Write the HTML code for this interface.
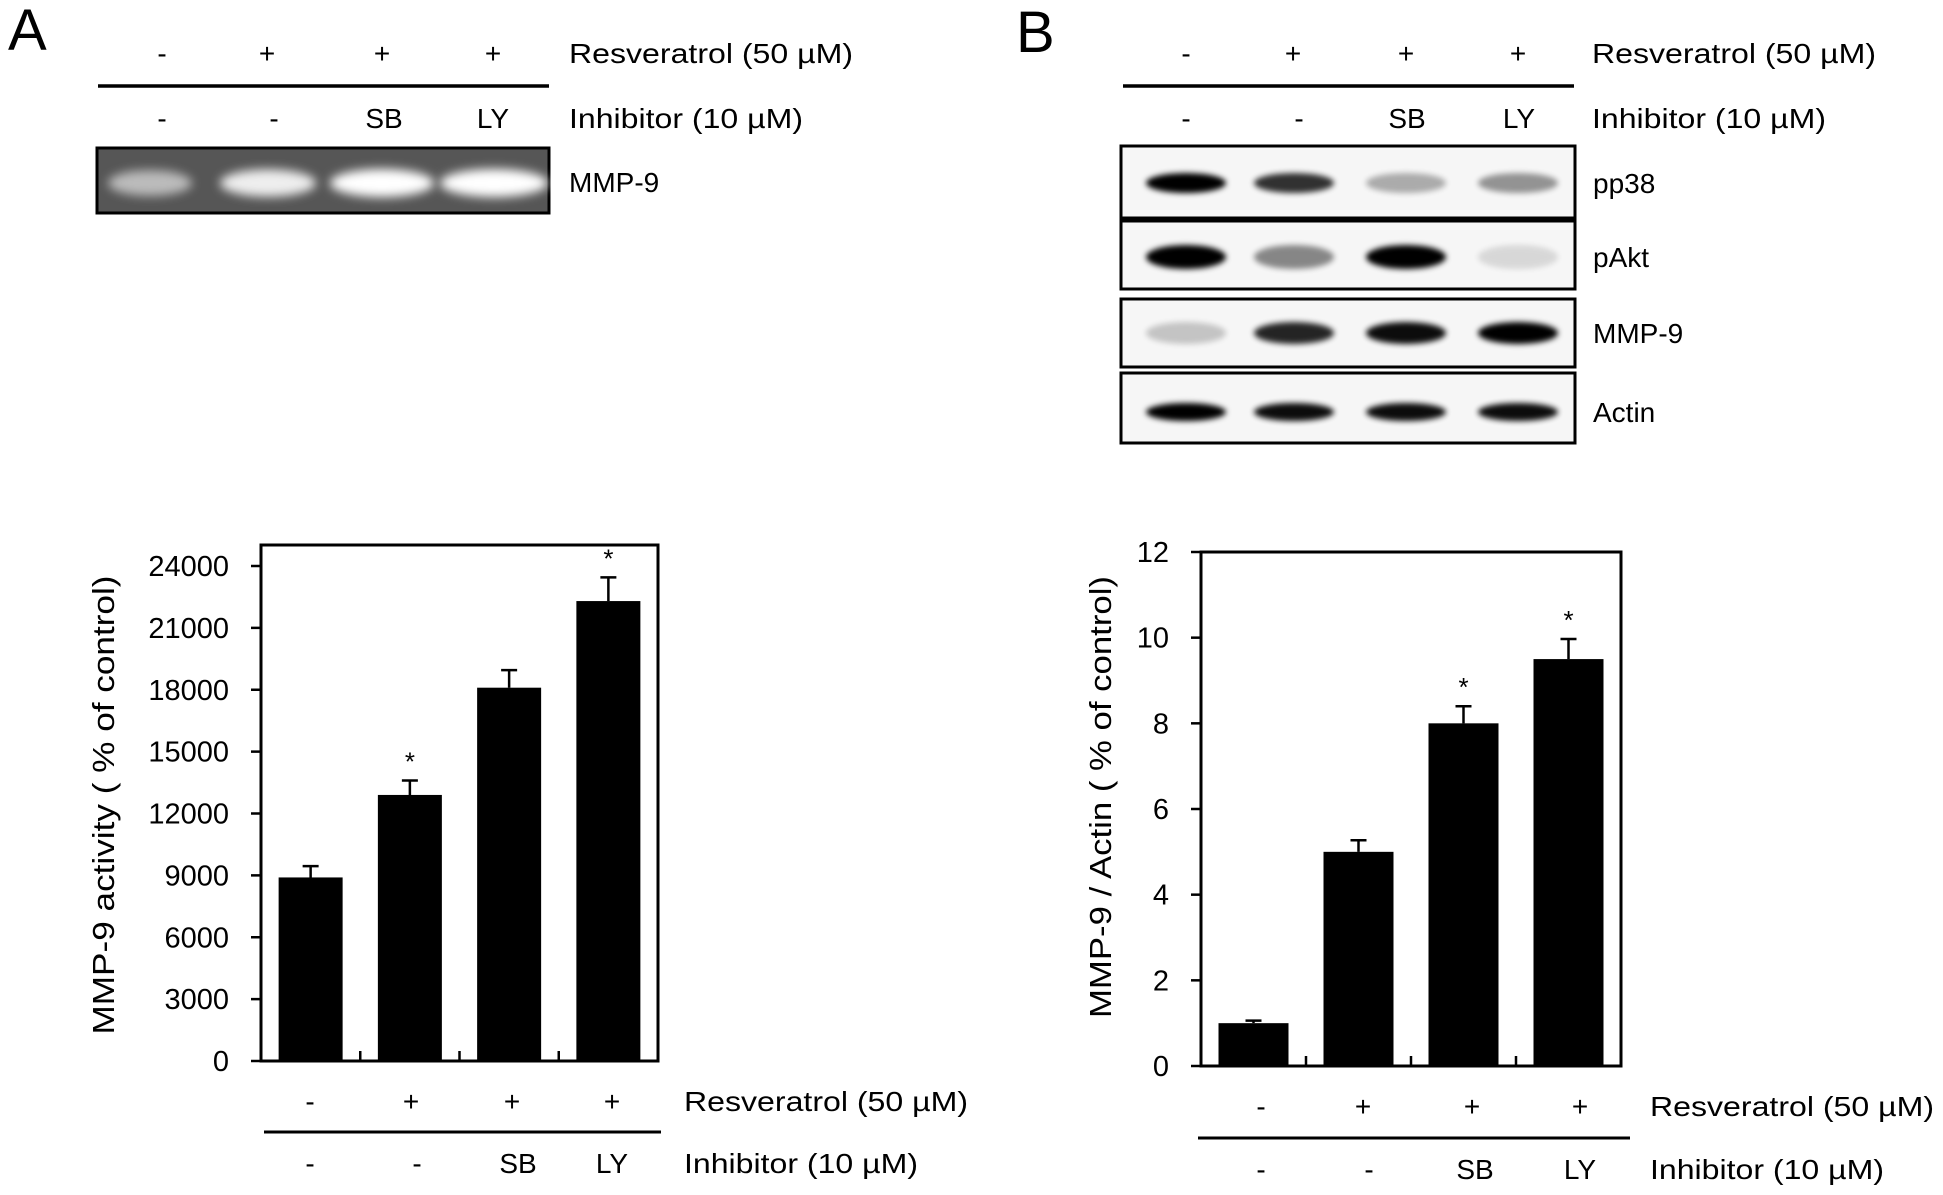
<!DOCTYPE html>
<html><head><meta charset="utf-8"><style>
html,body{margin:0;padding:0;background:#fff;}
svg{display:block;font-family:"Liberation Sans",sans-serif;}
</style></head><body>
<svg id="fig" width="1943" height="1195" viewBox="0 0 1943 1195" xmlns="http://www.w3.org/2000/svg">
<defs>
<filter id="blur" x="-30%" y="-80%" width="160%" height="260%"><feGaussianBlur stdDeviation="5"/></filter>
<filter id="blur2" x="-30%" y="-80%" width="160%" height="260%"><feGaussianBlur stdDeviation="3"/></filter>
</defs>
<text x="8" y="50" font-size="58">A</text>
<text x="1016" y="52" font-size="58">B</text>
<g id="topBlots" font-size="28"></g>
<g id="chartA" font-size="28"></g>
<g id="chartB" font-size="28"></g>
</svg>
<script>
// ---- Chart A data ----
const catsA = ["Control", "Resveratrol", "Resveratrol+SB", "Resveratrol+LY"];
const valsA = [8900, 12900, 18100, 22300];
const errsA = [550, 700, 850, 1150];
const starsA = [false, true, false, true];
const ticksA = [0, 3000, 6000, 9000, 12000, 15000, 18000, 21000, 24000];
// ---- Chart B data ----
const catsB = ["Control", "Resveratrol", "Resveratrol+SB", "Resveratrol+LY"];
const valsB = [1.0, 5.0, 8.0, 9.5];
const errsB = [0.06, 0.27, 0.4, 0.47];
const starsB = [false, false, true, true];
const ticksB = [0, 2, 4, 6, 8, 10, 12];
const resvRow = ["-", "+", "+", "+"];
const inhRow = ["-", "-", "SB", "LY"];

const NS = "http://www.w3.org/2000/svg";
function mk(parent, tag, attrs, text) {
  const e = document.createElementNS(NS, tag);
  for (const k in attrs) e.setAttribute(k, attrs[k]);
  if (text !== undefined) e.textContent = text;
  parent.appendChild(e);
  return e;
}

function drawChart(g, cfg) {
  const y = v => cfg.bottom - (v - cfg.min) / (cfg.max - cfg.min) * (cfg.bottom - cfg.yTop);
  const step = (cfg.right - cfg.left) / cfg.cats.length;
  const x = i => cfg.left + step * (i + 0.5);
  let f = mk(g, "rect", {x: cfg.left, y: cfg.top, width: cfg.right - cfg.left, height: cfg.bottom - cfg.top, fill: "none", stroke: "#000", "stroke-width": 3});
  
  
  cfg.ticks.forEach(t => {
    const l = mk(g, "line", {x1: cfg.left - 10, x2: cfg.left, y1: y(t), y2: y(t), stroke: "#000", "stroke-width": 2.5});
    
    
    const tx = mk(g, "text", {x: cfg.left - 32, y: y(t) + 10, "text-anchor": "end", "font-size": 29}, String(t));
    
    
  });
  for (let i = 1; i < cfg.cats.length; i++) {
    const l = mk(g, "line", {x1: cfg.left + step * i, x2: cfg.left + step * i, y1: cfg.bottom, y2: cfg.bottom - 10, stroke: "#000", "stroke-width": 2.5});
    
    
  }
  cfg.vals.forEach((v, i) => {
    const b = mk(g, "rect", {x: x(i) - cfg.bw / 2, y: y(v), width: cfg.bw, height: cfg.bottom - y(v), fill: "#000"});
    
    
    const e = cfg.errs[i];
    const eb = mk(g, "path", {d: `M${x(i)},${y(v)} V${y(v + e)} M${x(i) - 8},${y(v + e)} H${x(i) + 8}`, stroke: "#000", "stroke-width": 2.5, fill: "none"});
    
    
    if (cfg.stars[i]) {
      const s = mk(g, "text", {x: x(i), y: y(v + e) - 10, "text-anchor": "middle", "font-size": 26}, "*");
      
      
    }
  });
  const yl = mk(g, "text", {transform: `translate(${cfg.ylx},${cfg.ylc}) rotate(-90)`, "text-anchor": "middle", "font-size": 31, textLength: cfg.yll, lengthAdjust: "spacingAndGlyphs"}, cfg.ylabel);
  
  
  cfg.r1x.forEach((px, i) => {
    const t = mk(g, "text", {x: px, y: cfg.r1y, "text-anchor": "middle"}, resvRow[i]);
    
    
  });
  cfg.r2x.forEach((px, i) => {
    const t = mk(g, "text", {x: px, y: cfg.r2y, "text-anchor": "middle"}, inhRow[i]);
    
    
  });
  const ln = mk(g, "line", {x1: cfg.lx1, x2: cfg.lx2, y1: cfg.ly, y2: cfg.ly, stroke: "#000", "stroke-width": 3});
  
  
  const a = mk(g, "text", {x: cfg.labx, y: cfg.r1y, textLength: 284, lengthAdjust: "spacingAndGlyphs"}, "Resveratrol (50 µM)");
  
  
  const b = mk(g, "text", {x: cfg.labx, y: cfg.r2y, textLength: 234, lengthAdjust: "spacingAndGlyphs"}, "Inhibitor (10 µM)");
  
  
}

drawChart(document.getElementById("chartA"), {
  cats: catsA, vals: valsA, errs: errsA, stars: starsA, ticks: ticksA,
  min: 0, max: 24000, left: 261, right: 658, top: 545, bottom: 1061, yTop: 566, bw: 64,
  ylabel: "MMP-9 activity ( % of control)", ylx: 114, ylc: 805, yll: 459,
  r1x: [310, 411, 512, 612], r2x: [310, 417, 518, 612], r1y: 1111, r2y: 1173,
  lx1: 264, lx2: 661, ly: 1132, labx: 684
});
drawChart(document.getElementById("chartB"), {
  cats: catsB, vals: valsB, errs: errsB, stars: starsB, ticks: ticksB,
  min: 0, max: 12, left: 1201, right: 1621, top: 552, bottom: 1066, yTop: 552, bw: 70,
  ylabel: "MMP-9 / Actin ( % of control)", ylx: 1111, ylc: 797, yll: 442,
  r1x: [1261, 1363, 1472, 1580], r2x: [1261, 1369, 1475, 1580], r1y: 1116, r2y: 1179,
  lx1: 1198, lx2: 1630, ly: 1138, labx: 1650
});

// ---- top blots ----
const topG = document.getElementById("topBlots");
function rowLabels(xs1, xs2, lx, labx) {
  xs1.forEach((px, i) => { const t = mk(topG, "text", {x: px, y: 63, "text-anchor": "middle"}, resvRow[i]);
      });
  xs2.forEach((px, i) => { const t = mk(topG, "text", {x: px, y: 128, "text-anchor": "middle"}, inhRow[i]);
      });
  const l = mk(topG, "line", {x1: lx[0], x2: lx[1], y1: 86, y2: 86, stroke: "#000", "stroke-width": 3.5});
   
  const a = mk(topG, "text", {x: labx, y: 63, textLength: 284, lengthAdjust: "spacingAndGlyphs"}, "Resveratrol (50 µM)");
   
  const b = mk(topG, "text", {x: labx, y: 128, textLength: 234, lengthAdjust: "spacingAndGlyphs"}, "Inhibitor (10 µM)");
   
}
rowLabels([162, 267, 382, 493], [162, 274, 384, 493], [98, 549], 569);
rowLabels([1186, 1293, 1406, 1518], [1186, 1299, 1407, 1519], [1123, 1574], 1592);

const gel = mk(topG, "rect", {x: 97, y: 148, width: 452, height: 65, fill: "#565656", stroke: "#000", "stroke-width": 3});
 
[[150, 0.6, 30], [268, 0.9, 36], [382, 1, 40], [494, 1, 42]].forEach(([cx, o, ry]) => {
  const e = mk(topG, "ellipse", {cx: cx, cy: 183, rx: ry + 12, ry: 11 + o * 3, fill: "#fff", opacity: o, filter: "url(#blur)"});
   
});
const gl = mk(topG, "text", {x: 569, y: 192}, "MMP-9");
 

const lanes = [1186, 1294, 1406, 1518];
const blots = [
  {name: "pp38", y: 146, h: 72, cy: 183, ints: [1, 0.8, 0.3, 0.4], ry: 10},
  {name: "pAkt", y: 221, h: 68, cy: 257, ints: [1, 0.45, 1, 0.12], ry: 12},
  {name: "MMP-9", y: 299, h: 68, cy: 333, ints: [0.2, 0.85, 0.95, 1], ry: 11},
  {name: "Actin", y: 373, h: 70, cy: 412, ints: [1, 0.95, 0.95, 0.95], ry: 9}
];
blots.forEach(bl => {
  const r = mk(topG, "rect", {x: 1121, y: bl.y, width: 454, height: bl.h, fill: "#f6f6f6", stroke: "#000", "stroke-width": 3});
   
  bl.ints.forEach((o, i) => {
    const e = mk(topG, "ellipse", {cx: lanes[i], cy: bl.cy, rx: 40, ry: bl.ry, fill: "#000", opacity: o, filter: "url(#blur2)"});
     
  });
  const t = mk(topG, "text", {x: 1593, y: bl.cy + 10}, bl.name);
   
});
</script>
</body></html>
